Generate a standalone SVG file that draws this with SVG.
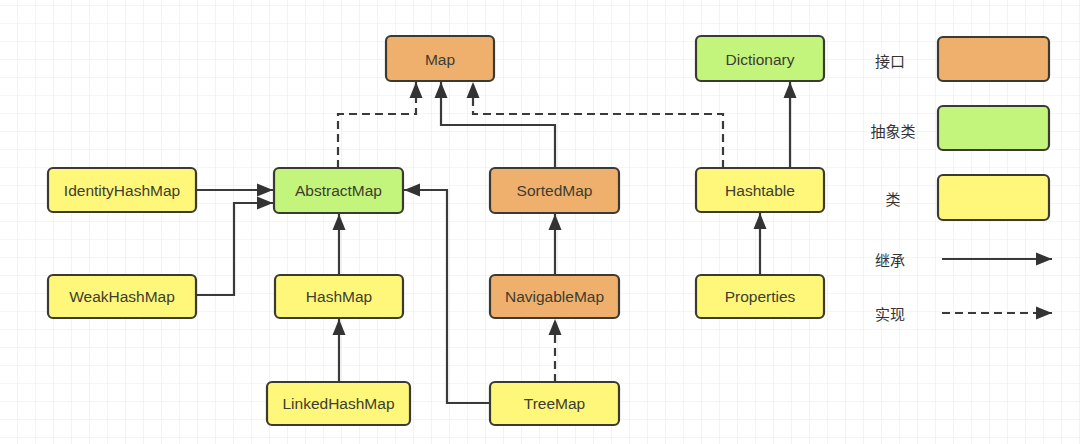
<svg xmlns="http://www.w3.org/2000/svg" width="1080" height="444" viewBox="0 0 1080 444">
<style>
.box{stroke:#3a3a32;stroke-width:2.2}
.i{fill:#EFB06E}
.a{fill:#C3F47B}
.c{fill:#FFF77A}
.t{font-family:"Liberation Sans","Noto Sans",Arial,sans-serif;font-size:15.5px;fill:#3d3d30;text-anchor:middle;dominant-baseline:central}
.zh{font-family:"Noto Sans CJK SC","Noto Sans",sans-serif;font-size:15px;fill:#333;text-anchor:middle;dominant-baseline:central}
.ln{fill:none;stroke:#3a3a3a;stroke-width:2.2}
.ds{stroke-dasharray:8,5}
</style>
<defs>
<pattern id="grid" x="0" y="6" width="18" height="18" patternUnits="userSpaceOnUse">
<path d="M18,0 V18 M0,18 H18" fill="none" stroke="#ececec" stroke-width="1.2"/>
</pattern>
<marker id="arr" markerWidth="18" markerHeight="14" refX="16" refY="7" orient="auto" markerUnits="userSpaceOnUse">
<path d="M0,0.5 L16,7 L0,13.5 z" fill="#333"/>
</marker>
</defs>
<rect width="1080" height="444" fill="#fff"/>
<rect width="1080" height="444" fill="url(#grid)"/>

<g id="connectors">
<path class="ln ds" d="M338,168 V114 H416 V82" marker-end="url(#arr)"/>
<path class="ln" d="M555,168 V125 H441 V82" marker-end="url(#arr)"/>
<path class="ln ds" d="M723,168 V114 H473 V82" marker-end="url(#arr)"/>
<path class="ln" d="M790,168 V82" marker-end="url(#arr)"/>
<path class="ln" d="M196,190 H273" marker-end="url(#arr)"/>
<path class="ln" d="M196,295 H234 V203 H273" marker-end="url(#arr)"/>
<path class="ln" d="M339,275 V214" marker-end="url(#arr)"/>
<path class="ln" d="M339,382 V319" marker-end="url(#arr)"/>
<path class="ln" d="M490,403 H447 V190 H404" marker-end="url(#arr)"/>
<path class="ln" d="M555,275 V214" marker-end="url(#arr)"/>
<path class="ln ds" d="M555,382 V319" marker-end="url(#arr)"/>
<path class="ln" d="M760,275 V213" marker-end="url(#arr)"/>
<path class="ln" d="M942,259 H1052" marker-end="url(#arr)"/>
<path class="ln ds" d="M942,313 H1052" marker-end="url(#arr)"/>
</g>

<g id="Map"><rect class="box i" x="386" y="36" width="108" height="45" rx="5"/><text class="t" x="440" y="59">Map</text></g>
<g id="Dictionary"><rect class="box a" x="696" y="36" width="128" height="45" rx="5"/><text class="t" x="760" y="59">Dictionary</text></g>
<g id="IdentityHashMap"><rect class="box c" x="48" y="168" width="148" height="44" rx="5"/><text class="t" x="122" y="190">IdentityHashMap</text></g>
<g id="AbstractMap"><rect class="box a" x="274" y="168" width="129" height="45" rx="5"/><text class="t" x="338.5" y="190.5">AbstractMap</text></g>
<g id="SortedMap"><rect class="box i" x="490" y="168" width="129" height="45" rx="5"/><text class="t" x="554.5" y="190.5">SortedMap</text></g>
<g id="Hashtable"><rect class="box c" x="696" y="168" width="128" height="44" rx="5"/><text class="t" x="760" y="190">Hashtable</text></g>
<g id="WeakHashMap"><rect class="box c" x="48" y="275" width="148" height="43" rx="5"/><text class="t" x="122" y="296.5">WeakHashMap</text></g>
<g id="HashMap"><rect class="box c" x="275" y="275" width="128" height="43" rx="5"/><text class="t" x="339" y="296.5">HashMap</text></g>
<g id="NavigableMap"><rect class="box i" x="490" y="275" width="129" height="43" rx="5"/><text class="t" x="554.5" y="296.5">NavigableMap</text></g>
<g id="Properties"><rect class="box c" x="696" y="275" width="128" height="43" rx="5"/><text class="t" x="760" y="296.5">Properties</text></g>
<g id="LinkedHashMap"><rect class="box c" x="267" y="382" width="143" height="43" rx="5"/><text class="t" x="338.5" y="403.5">LinkedHashMap</text></g>
<g id="TreeMap"><rect class="box c" x="490" y="382" width="129" height="43" rx="5"/><text class="t" x="554.5" y="403.5">TreeMap</text></g>

<g id="legend">
<text class="zh" x="890" y="60">接口</text>
<rect class="box i" x="938" y="37" width="111" height="44" rx="5"/>
<text class="zh" x="893" y="130">抽象类</text>
<rect class="box a" x="938" y="106" width="111" height="44" rx="5"/>
<text class="zh" x="893" y="198">类</text>
<rect class="box c" x="938" y="175" width="111" height="45" rx="5"/>
<text class="zh" x="890" y="259">继承</text>
<text class="zh" x="890" y="313">实现</text>
</g>
</svg>
